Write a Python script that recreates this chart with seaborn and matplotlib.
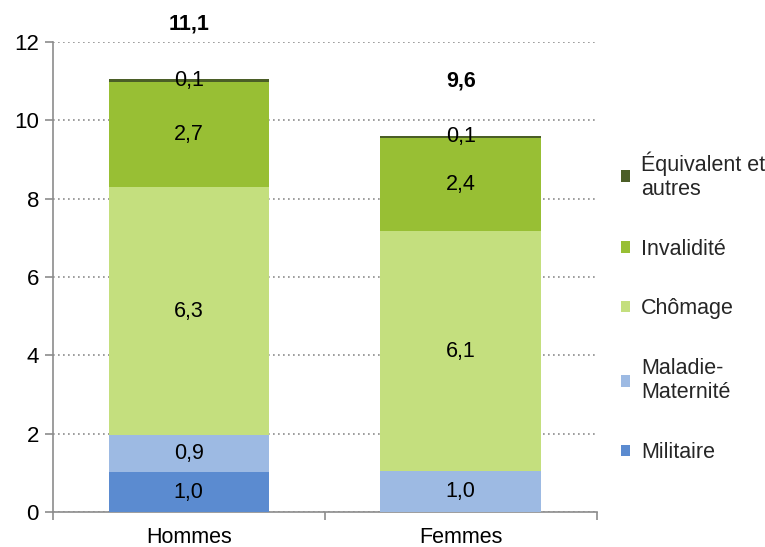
import matplotlib
matplotlib.use("Agg")
import matplotlib.pyplot as plt
import seaborn as sns
import pandas as pd
import numpy as np

# Données (années de durée validée, par sexe)
sexes = ["Hommes", "Femmes"]
series = ["Militaire", "Maladie-\nMaternité", "Chômage", "Invalidité", "Équivalent et\nautres"]
militaire = [1.02, 0.0]
maladie = [0.94, 1.04]
chomage = [6.33, 6.13]
invalidite = [2.70, 2.38]
equivalent = [0.08, 0.06]
colors = ["#5B8BD0", "#9DBAE3", "#C4DF7E", "#98BF34", "#4B5E27"]

layers = [militaire, maladie, chomage, invalidite, equivalent]

sns.set_theme(style="white")
plt.rcParams["font.family"] = ["Liberation Sans", "DejaVu Sans"]

fig = plt.figure(figsize=(7.65, 5.47), dpi=100)
ax = fig.add_axes([0.069, 0.064, 0.711, 0.859])

cum = np.cumsum(np.array(layers), axis=0)
bar_w = 0.59

# Empilement : on trace les cumuls du haut vers le bas
for i in reversed(range(len(layers))):
    df = pd.DataFrame({"sexe": sexes, "valeur": cum[i]})
    sns.barplot(data=df, x="sexe", y="valeur", color=colors[i], width=bar_w,
                saturation=1, ax=ax, label=series[i], errorbar=None, zorder=3,
                linewidth=0, edgecolor="none")

# Étiquettes de valeur dans chaque segment
for i, vals in enumerate(layers):
    for j, v in enumerate(vals):
        if v <= 0:
            continue
        y = cum[i][j] - v / 2
        ax.text(j, y, f"{v:.1f}".replace(".", ","), ha="center", va="center",
                fontsize=15.5, color="black", zorder=5)

# Totaux en gras au-dessus des barres
totals = cum[-1]
for j, t in enumerate(totals):
    ax.text(j, t + 1.4, f"{t:.1f}".replace(".", ","), ha="center", va="center",
            fontsize=15.5, fontweight="bold", color="black", clip_on=False)

ax.set_ylim(0, 12)
ax.set_xlim(-0.5, 1.5)
ax.set_yticks(range(0, 13, 2))
ax.set_xlabel("")
ax.set_ylabel("")
ax.yaxis.grid(True, linestyle=(0, (1.0, 2.0)), color="#8C8C8C", linewidth=1.2, zorder=0)
ax.set_axisbelow(True)

for s in ["top", "right"]:
    ax.spines[s].set_visible(False)
for s in ["left", "bottom"]:
    ax.spines[s].set_color("#8C8C8C")
    ax.spines[s].set_linewidth(1.2)

ax.tick_params(axis="y", which="major", left=True, length=6, width=1.2, color="#8C8C8C",
               labelsize=16, pad=4, labelcolor="black")
ax.tick_params(axis="x", which="major", bottom=False, labelsize=15.5, pad=5, labelcolor="black")
ax.set_xticks([-0.5, 0.5, 1.5], minor=True)
ax.tick_params(axis="x", which="minor", bottom=True, length=6, width=1.2, color="#8C8C8C")

handles, labels = ax.get_legend_handles_labels()
leg = ax.legend(handles, labels, loc="center left", bbox_to_anchor=(1.044, 0.436),
                frameon=False, fontsize=15.5, handlelength=0.45, handleheight=0.45,
                handletextpad=0.5, labelspacing=1.8, borderaxespad=0, borderpad=0)

fig.savefig("out.png", dpi=100)
